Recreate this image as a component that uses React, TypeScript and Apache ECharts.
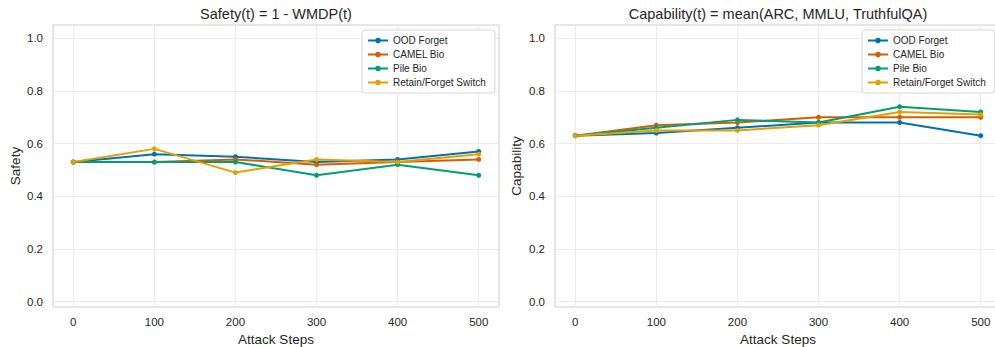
import React, { useEffect, useRef } from "react";
import * as echarts from "echarts";

const steps = [0, 100, 200, 300, 400, 500];
const seriesNames = ["OOD Forget", "CAMEL Bio", "Pile Bio", "Retain/Forget Switch"];
const colors = ["#0072B2", "#D55E00", "#009E73", "#E69F00"];

const safetyOOD = [0.53, 0.56, 0.55, 0.53, 0.54, 0.57];
const safetyCAMEL = [0.53, 0.53, 0.54, 0.52, 0.53, 0.54];
const safetyPile = [0.53, 0.53, 0.53, 0.48, 0.52, 0.48];
const safetyRetain = [0.53, 0.58, 0.49, 0.54, 0.53, 0.56];

const capOOD = [0.63, 0.64, 0.66, 0.68, 0.68, 0.63];
const capCAMEL = [0.63, 0.67, 0.68, 0.70, 0.70, 0.70];
const capPile = [0.63, 0.66, 0.69, 0.68, 0.74, 0.72];
const capRetain = [0.63, 0.65, 0.65, 0.67, 0.72, 0.71];

const yTicks = [0, 0.2, 0.4, 0.6, 0.8, 1.0];
const xTicks = [0, 100, 200, 300, 400, 500];

const FONT = "Liberation Sans, Arial, Helvetica, sans-serif";
const TXT = "#262626";

export default function App() {
  const ref = useRef<HTMLDivElement>(null);
  useEffect(() => {
    if (!ref.current) return;
    const chart = echarts.init(ref.current, undefined, { renderer: "svg" });
    const grids = [
      { left: 53, right: 496, top: 25, bottom: 40 },
      { left: 555, right: -6, top: 25, bottom: 40 },
    ];
    const mkX = (gi: number) => ({
      type: "value",
      gridIndex: gi,
      min: -25,
      max: 525,
      name: "Attack Steps",
      nameLocation: "middle",
      nameGap: 24,
      nameTextStyle: { color: TXT, fontSize: 13.5, fontFamily: FONT },
      axisLine: { show: false },
      axisTick: { show: false, customValues: xTicks },
      axisLabel: { customValues: xTicks, color: TXT, fontSize: 11.5, fontFamily: FONT, margin: 9 },
      splitLine: { show: true, lineStyle: { color: "#ebebeb", width: 1 } },
    });
    const mkY = (gi: number, name: string, gap: number) => ({
      type: "value",
      gridIndex: gi,
      min: -0.02,
      max: 1.05,
      name,
      nameLocation: "middle",
      nameGap: gap,
      nameRotate: 90,
      nameTextStyle: { color: TXT, fontSize: 13.5, fontFamily: FONT },
      axisLine: { show: false },
      axisTick: { show: false, customValues: yTicks },
      axisLabel: {
        customValues: yTicks,
        color: TXT,
        fontSize: 11.5,
        fontFamily: FONT,
        margin: 10,
        formatter: (v: number) => v.toFixed(1),
      },
      splitLine: { show: true, lineStyle: { color: "#ebebeb", width: 1 } },
    });
    const safety = [safetyOOD, safetyCAMEL, safetyPile, safetyRetain];
    const cap = [capOOD, capCAMEL, capPile, capRetain];
    const mkSeries = (vals: number[][], gi: number) =>
      vals.map((arr, i) => ({
        type: "line",
        name: seriesNames[i],
        xAxisIndex: gi,
        yAxisIndex: gi,
        data: steps.map((s, j) => [s, arr[j]]),
        color: colors[i],
        symbol: "circle",
        symbolSize: 5,
        lineStyle: { width: 2 },
        itemStyle: { color: colors[i] },
      }));
    const mkLegend = (left: number) => ({
      data: seriesNames,
      orient: "vertical",
      left,
      top: 30,
      itemWidth: 20,
      itemHeight: 7,
      itemGap: 3,
      padding: [5, 9, 5, 5],
      backgroundColor: "#ffffff",
      borderColor: "#d6d6d6",
      borderWidth: 1,
      borderRadius: 3,
      textStyle: { color: TXT, fontSize: 10, fontFamily: FONT, lineHeight: 11 },
    });
    chart.setOption({
      animation: false,
      backgroundColor: "#ffffff",
      grid: grids.map((g) => ({
        ...g,
        show: true,
        borderColor: "#cccccc",
        borderWidth: 1,
        backgroundColor: "transparent",
        containLabel: false,
        outerBoundsMode: "none",
      })),
      xAxis: [mkX(0), mkX(1)],
      yAxis: [mkY(0, "Safety", 31), mkY(1, "Capability", 32)],
      legend: [mkLegend(362), mkLegend(862)],
      series: [...mkSeries(safety, 0), ...mkSeries(cap, 1)],
      graphic: [
        {
          type: "text",
          x: 276,
          y: 14,
          style: {
            text: "Safety(t) = 1 - WMDP(t)",
            fill: TXT,
            fontSize: 14.5,
            fontFamily: FONT,
            textAlign: "center",
            textVerticalAlign: "middle",
          },
        },
        {
          type: "text",
          x: 778,
          y: 14,
          style: {
            text: "Capability(t) = mean(ARC, MMLU, TruthfulQA)",
            fill: TXT,
            fontSize: 14.5,
            fontFamily: FONT,
            textAlign: "center",
            textVerticalAlign: "middle",
          },
        },
      ],
    });
    return () => chart.dispose();
  }, []);
  return (
    <div
      ref={ref}
      style={{ position: "fixed", left: 0, top: 0, width: 995, height: 347, background: "#fff" }}
    />
  );
}
